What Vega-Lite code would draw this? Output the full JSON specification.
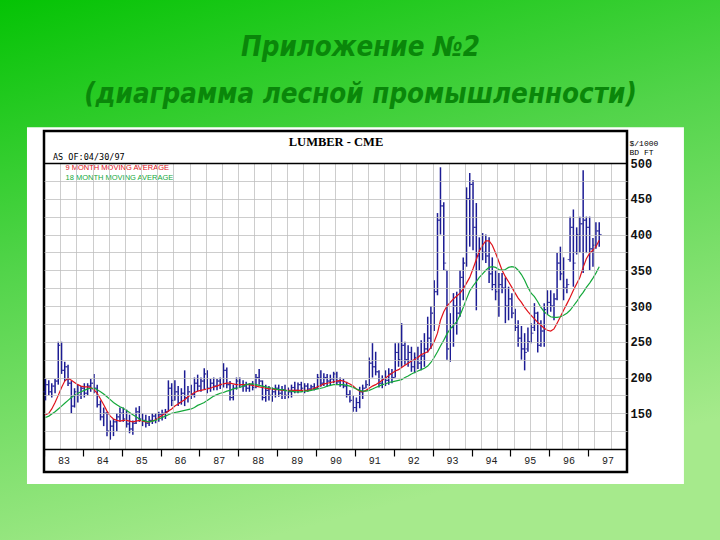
{
  "$schema": "https://vega.github.io/schema/vega-lite/v6.json",
  "width": 583,
  "height": 286,
  "autosize": {"type": "none"},
  "padding": {"left": 44, "top": 163, "right": 93, "bottom": 91},
  "background": "#4fd048",
  "title": {
    "text": ["Приложение №2", "(диаграмма лесной промышленности)"],
    "anchor": "middle",
    "frame": "bounds",
    "font": "DejaVu Sans Condensed, sans-serif",
    "fontSize": 27.5,
    "fontStyle": "italic",
    "fontWeight": "bold",
    "color": "#0a870a",
    "lineHeight": 47,
    "baseline": "bottom",
    "offset": -138
  },
  "config": {
    "view": {"stroke": null}
  },
  "data": {
    "values": [
      {"d":"1983-01-15","o":180,"h":198,"l":168,"c":190,"ma9":148,"ma18":144},
      {"d":"1983-02-15","o":190,"h":196,"l":175,"c":180,"ma9":150,"ma18":146},
      {"d":"1983-03-15","o":180,"h":192,"l":172,"c":188,"ma9":156,"ma18":149},
      {"d":"1983-04-15","o":188,"h":198,"l":178,"c":195,"ma9":165,"ma18":152},
      {"d":"1983-05-15","o":195,"h":250,"l":190,"c":245,"ma9":175,"ma18":156},
      {"d":"1983-06-15","o":245,"h":250,"l":205,"c":210,"ma9":186,"ma18":160},
      {"d":"1983-07-15","o":210,"h":222,"l":195,"c":215,"ma9":195,"ma18":164},
      {"d":"1983-08-15","o":215,"h":218,"l":188,"c":192,"ma9":199,"ma18":168},
      {"d":"1983-09-15","o":192,"h":195,"l":150,"c":160,"ma9":196,"ma18":172},
      {"d":"1983-10-15","o":160,"h":185,"l":158,"c":180,"ma9":193,"ma18":175},
      {"d":"1983-11-15","o":180,"h":190,"l":165,"c":175,"ma9":190,"ma18":178},
      {"d":"1983-12-15","o":175,"h":188,"l":170,"c":185,"ma9":188,"ma18":180},
      {"d":"1984-01-15","o":185,"h":192,"l":172,"c":178,"ma9":187,"ma18":182},
      {"d":"1984-02-15","o":178,"h":192,"l":175,"c":188,"ma9":187,"ma18":184},
      {"d":"1984-03-15","o":188,"h":198,"l":180,"c":192,"ma9":186,"ma18":185},
      {"d":"1984-04-15","o":192,"h":205,"l":178,"c":185,"ma9":183,"ma18":185},
      {"d":"1984-05-15","o":185,"h":190,"l":158,"c":162,"ma9":178,"ma18":183},
      {"d":"1984-06-15","o":162,"h":168,"l":140,"c":145,"ma9":170,"ma18":180},
      {"d":"1984-07-15","o":145,"h":158,"l":132,"c":150,"ma9":162,"ma18":177},
      {"d":"1984-08-15","o":150,"h":152,"l":118,"c":125,"ma9":153,"ma18":173},
      {"d":"1984-09-15","o":125,"h":140,"l":113,"c":132,"ma9":146,"ma18":169},
      {"d":"1984-10-15","o":132,"h":142,"l":118,"c":138,"ma9":142,"ma18":165},
      {"d":"1984-11-15","o":138,"h":150,"l":125,"c":145,"ma9":140,"ma18":162},
      {"d":"1984-12-15","o":145,"h":158,"l":138,"c":150,"ma9":139,"ma18":159},
      {"d":"1985-01-15","o":150,"h":158,"l":138,"c":142,"ma9":140,"ma18":157},
      {"d":"1985-02-15","o":142,"h":155,"l":130,"c":135,"ma9":140,"ma18":154},
      {"d":"1985-03-15","o":135,"h":148,"l":122,"c":128,"ma9":139,"ma18":151},
      {"d":"1985-04-15","o":128,"h":140,"l":120,"c":136,"ma9":138,"ma18":148},
      {"d":"1985-05-15","o":136,"h":158,"l":135,"c":152,"ma9":139,"ma18":145},
      {"d":"1985-06-15","o":152,"h":160,"l":138,"c":142,"ma9":140,"ma18":142},
      {"d":"1985-07-15","o":142,"h":150,"l":132,"c":140,"ma9":139,"ma18":140},
      {"d":"1985-08-15","o":140,"h":148,"l":130,"c":136,"ma9":138,"ma18":139},
      {"d":"1985-09-15","o":136,"h":146,"l":132,"c":140,"ma9":138,"ma18":138},
      {"d":"1985-10-15","o":140,"h":150,"l":135,"c":146,"ma9":139,"ma18":139},
      {"d":"1985-11-15","o":146,"h":150,"l":136,"c":142,"ma9":141,"ma18":140},
      {"d":"1985-12-15","o":142,"h":152,"l":138,"c":148,"ma9":144,"ma18":142},
      {"d":"1986-01-15","o":148,"h":155,"l":140,"c":150,"ma9":147,"ma18":144},
      {"d":"1986-02-15","o":150,"h":156,"l":142,"c":152,"ma9":150,"ma18":146},
      {"d":"1986-03-15","o":152,"h":196,"l":152,"c":185,"ma9":153,"ma18":148},
      {"d":"1986-04-15","o":185,"h":192,"l":160,"c":168,"ma9":156,"ma18":150},
      {"d":"1986-05-15","o":168,"h":196,"l":168,"c":180,"ma9":160,"ma18":151},
      {"d":"1986-06-15","o":180,"h":188,"l":160,"c":165,"ma9":163,"ma18":152},
      {"d":"1986-07-15","o":165,"h":185,"l":162,"c":178,"ma9":166,"ma18":153},
      {"d":"1986-08-15","o":178,"h":210,"l":160,"c":172,"ma9":169,"ma18":154},
      {"d":"1986-09-15","o":172,"h":188,"l":165,"c":180,"ma9":173,"ma18":155},
      {"d":"1986-10-15","o":180,"h":190,"l":170,"c":176,"ma9":176,"ma18":156},
      {"d":"1986-11-15","o":176,"h":200,"l":172,"c":192,"ma9":179,"ma18":158},
      {"d":"1986-12-15","o":192,"h":204,"l":181,"c":188,"ma9":181,"ma18":161},
      {"d":"1987-01-15","o":188,"h":200,"l":180,"c":195,"ma9":182,"ma18":163},
      {"d":"1987-02-15","o":195,"h":213,"l":183,"c":205,"ma9":183,"ma18":165},
      {"d":"1987-03-15","o":205,"h":210,"l":178,"c":185,"ma9":184,"ma18":168},
      {"d":"1987-04-15","o":185,"h":198,"l":180,"c":192,"ma9":185,"ma18":171},
      {"d":"1987-05-15","o":192,"h":200,"l":182,"c":188,"ma9":187,"ma18":174},
      {"d":"1987-06-15","o":188,"h":198,"l":182,"c":195,"ma9":188,"ma18":176},
      {"d":"1987-07-15","o":195,"h":200,"l":184,"c":190,"ma9":190,"ma18":178},
      {"d":"1987-08-15","o":190,"h":220,"l":186,"c":210,"ma9":191,"ma18":179},
      {"d":"1987-09-15","o":210,"h":214,"l":185,"c":190,"ma9":192,"ma18":181},
      {"d":"1987-10-15","o":190,"h":195,"l":168,"c":172,"ma9":192,"ma18":182},
      {"d":"1987-11-15","o":172,"h":190,"l":168,"c":185,"ma9":191,"ma18":184},
      {"d":"1987-12-15","o":185,"h":200,"l":183,"c":195,"ma9":190,"ma18":185},
      {"d":"1988-01-15","o":195,"h":200,"l":186,"c":190,"ma9":190,"ma18":186},
      {"d":"1988-02-15","o":190,"h":196,"l":180,"c":188,"ma9":190,"ma18":188},
      {"d":"1988-03-15","o":188,"h":194,"l":180,"c":185,"ma9":190,"ma18":190},
      {"d":"1988-04-15","o":185,"h":192,"l":180,"c":190,"ma9":190,"ma18":191},
      {"d":"1988-05-15","o":190,"h":195,"l":182,"c":186,"ma9":189,"ma18":191},
      {"d":"1988-06-15","o":186,"h":205,"l":185,"c":200,"ma9":188,"ma18":190},
      {"d":"1988-07-15","o":200,"h":212,"l":190,"c":195,"ma9":187,"ma18":189},
      {"d":"1988-08-15","o":195,"h":196,"l":168,"c":172,"ma9":186,"ma18":188},
      {"d":"1988-09-15","o":172,"h":190,"l":166,"c":182,"ma9":185,"ma18":187},
      {"d":"1988-10-15","o":182,"h":188,"l":168,"c":175,"ma9":184,"ma18":186},
      {"d":"1988-11-15","o":175,"h":186,"l":166,"c":180,"ma9":184,"ma18":185},
      {"d":"1988-12-15","o":180,"h":190,"l":172,"c":185,"ma9":183,"ma18":184},
      {"d":"1989-01-15","o":185,"h":190,"l":173,"c":178,"ma9":183,"ma18":183},
      {"d":"1989-02-15","o":178,"h":188,"l":170,"c":183,"ma9":182,"ma18":183},
      {"d":"1989-03-15","o":183,"h":190,"l":170,"c":175,"ma9":182,"ma18":182},
      {"d":"1989-04-15","o":175,"h":186,"l":171,"c":180,"ma9":182,"ma18":181},
      {"d":"1989-05-15","o":180,"h":190,"l":172,"c":186,"ma9":182,"ma18":181},
      {"d":"1989-06-15","o":186,"h":194,"l":178,"c":182,"ma9":182,"ma18":180},
      {"d":"1989-07-15","o":182,"h":193,"l":178,"c":190,"ma9":182,"ma18":180},
      {"d":"1989-08-15","o":190,"h":194,"l":180,"c":185,"ma9":182,"ma18":180},
      {"d":"1989-09-15","o":185,"h":192,"l":178,"c":188,"ma9":182,"ma18":181},
      {"d":"1989-10-15","o":188,"h":192,"l":180,"c":184,"ma9":182,"ma18":181},
      {"d":"1989-11-15","o":184,"h":190,"l":182,"c":187,"ma9":183,"ma18":182},
      {"d":"1989-12-15","o":187,"h":192,"l":182,"c":185,"ma9":185,"ma18":183},
      {"d":"1990-01-15","o":185,"h":205,"l":184,"c":200,"ma9":187,"ma18":184},
      {"d":"1990-02-15","o":200,"h":210,"l":187,"c":192,"ma9":189,"ma18":185},
      {"d":"1990-03-15","o":192,"h":206,"l":188,"c":200,"ma9":191,"ma18":186},
      {"d":"1990-04-15","o":200,"h":205,"l":187,"c":195,"ma9":192,"ma18":188},
      {"d":"1990-05-15","o":195,"h":204,"l":188,"c":198,"ma9":193,"ma18":189},
      {"d":"1990-06-15","o":198,"h":208,"l":192,"c":205,"ma9":194,"ma18":190},
      {"d":"1990-07-15","o":205,"h":208,"l":190,"c":194,"ma9":195,"ma18":190},
      {"d":"1990-08-15","o":194,"h":200,"l":187,"c":190,"ma9":196,"ma18":190},
      {"d":"1990-09-15","o":190,"h":198,"l":185,"c":188,"ma9":195,"ma18":190},
      {"d":"1990-10-15","o":188,"h":194,"l":172,"c":176,"ma9":193,"ma18":189},
      {"d":"1990-11-15","o":176,"h":182,"l":165,"c":168,"ma9":191,"ma18":188},
      {"d":"1990-12-15","o":168,"h":175,"l":152,"c":158,"ma9":188,"ma18":186},
      {"d":"1991-01-15","o":158,"h":172,"l":152,"c":165,"ma9":184,"ma18":184},
      {"d":"1991-02-15","o":165,"h":187,"l":157,"c":180,"ma9":181,"ma18":182},
      {"d":"1991-03-15","o":180,"h":190,"l":170,"c":185,"ma9":180,"ma18":181},
      {"d":"1991-04-15","o":185,"h":196,"l":185,"c":190,"ma9":182,"ma18":181},
      {"d":"1991-05-15","o":190,"h":228,"l":188,"c":220,"ma9":185,"ma18":182},
      {"d":"1991-06-15","o":220,"h":248,"l":200,"c":215,"ma9":188,"ma18":184},
      {"d":"1991-07-15","o":215,"h":236,"l":203,"c":208,"ma9":190,"ma18":186},
      {"d":"1991-08-15","o":208,"h":210,"l":186,"c":192,"ma9":193,"ma18":188},
      {"d":"1991-09-15","o":192,"h":203,"l":185,"c":198,"ma9":196,"ma18":190},
      {"d":"1991-10-15","o":198,"h":210,"l":188,"c":196,"ma9":199,"ma18":191},
      {"d":"1991-11-15","o":196,"h":213,"l":190,"c":205,"ma9":203,"ma18":193},
      {"d":"1991-12-15","o":205,"h":212,"l":192,"c":200,"ma9":206,"ma18":194},
      {"d":"1992-01-15","o":200,"h":248,"l":200,"c":235,"ma9":209,"ma18":195},
      {"d":"1992-02-15","o":235,"h":248,"l":215,"c":225,"ma9":211,"ma18":196},
      {"d":"1992-03-15","o":225,"h":276,"l":215,"c":245,"ma9":214,"ma18":197},
      {"d":"1992-04-15","o":245,"h":250,"l":218,"c":225,"ma9":217,"ma18":200},
      {"d":"1992-05-15","o":225,"h":245,"l":215,"c":235,"ma9":220,"ma18":202},
      {"d":"1992-06-15","o":235,"h":243,"l":208,"c":215,"ma9":223,"ma18":205},
      {"d":"1992-07-15","o":215,"h":235,"l":206,"c":228,"ma9":225,"ma18":207},
      {"d":"1992-08-15","o":228,"h":243,"l":212,"c":220,"ma9":228,"ma18":209},
      {"d":"1992-09-15","o":220,"h":252,"l":210,"c":230,"ma9":232,"ma18":211},
      {"d":"1992-10-15","o":230,"h":262,"l":215,"c":240,"ma9":234,"ma18":213},
      {"d":"1992-11-15","o":240,"h":285,"l":235,"c":255,"ma9":236,"ma18":216},
      {"d":"1992-12-15","o":255,"h":300,"l":240,"c":290,"ma9":242,"ma18":221},
      {"d":"1993-01-15","o":290,"h":336,"l":265,"c":320,"ma9":250,"ma18":228},
      {"d":"1993-02-15","o":320,"h":430,"l":315,"c":420,"ma9":262,"ma18":236},
      {"d":"1993-03-15","o":420,"h":494,"l":400,"c":440,"ma9":280,"ma18":244},
      {"d":"1993-04-15","o":440,"h":445,"l":350,"c":360,"ma9":292,"ma18":252},
      {"d":"1993-05-15","o":350,"h":350,"l":225,"c":240,"ma9":300,"ma18":261},
      {"d":"1993-06-15","o":240,"h":290,"l":222,"c":270,"ma9":305,"ma18":268},
      {"d":"1993-07-15","o":270,"h":318,"l":243,"c":300,"ma9":310,"ma18":273},
      {"d":"1993-08-15","o":300,"h":320,"l":260,"c":290,"ma9":314,"ma18":278},
      {"d":"1993-09-15","o":290,"h":350,"l":285,"c":340,"ma9":318,"ma18":287},
      {"d":"1993-10-15","o":340,"h":368,"l":308,"c":360,"ma9":324,"ma18":298},
      {"d":"1993-11-15","o":360,"h":466,"l":355,"c":450,"ma9":332,"ma18":310},
      {"d":"1993-12-15","o":450,"h":486,"l":383,"c":470,"ma9":340,"ma18":321},
      {"d":"1994-01-15","o":470,"h":476,"l":378,"c":410,"ma9":352,"ma18":328},
      {"d":"1994-02-15","o":410,"h":444,"l":294,"c":370,"ma9":365,"ma18":334},
      {"d":"1994-03-15","o":370,"h":396,"l":350,"c":380,"ma9":377,"ma18":340},
      {"d":"1994-04-15","o":380,"h":402,"l":364,"c":375,"ma9":385,"ma18":345},
      {"d":"1994-05-15","o":375,"h":400,"l":360,"c":370,"ma9":391,"ma18":350},
      {"d":"1994-06-15","o":370,"h":396,"l":332,"c":345,"ma9":391,"ma18":354},
      {"d":"1994-07-15","o":345,"h":368,"l":322,"c":330,"ma9":385,"ma18":355},
      {"d":"1994-08-15","o":330,"h":350,"l":308,"c":320,"ma9":374,"ma18":354},
      {"d":"1994-09-15","o":320,"h":346,"l":285,"c":330,"ma9":362,"ma18":351},
      {"d":"1994-10-15","o":330,"h":346,"l":318,"c":325,"ma9":350,"ma18":350},
      {"d":"1994-11-15","o":325,"h":340,"l":276,"c":300,"ma9":341,"ma18":351},
      {"d":"1994-12-15","o":300,"h":327,"l":280,"c":310,"ma9":334,"ma18":354},
      {"d":"1995-01-15","o":310,"h":318,"l":283,"c":290,"ma9":326,"ma18":355},
      {"d":"1995-02-15","o":290,"h":296,"l":265,"c":270,"ma9":318,"ma18":354},
      {"d":"1995-03-15","o":270,"h":280,"l":243,"c":255,"ma9":311,"ma18":350},
      {"d":"1995-04-15","o":255,"h":272,"l":225,"c":240,"ma9":305,"ma18":344},
      {"d":"1995-05-15","o":240,"h":262,"l":210,"c":235,"ma9":298,"ma18":336},
      {"d":"1995-06-15","o":240,"h":270,"l":236,"c":250,"ma9":292,"ma18":326},
      {"d":"1995-07-15","o":250,"h":276,"l":248,"c":262,"ma9":287,"ma18":318},
      {"d":"1995-08-15","o":270,"h":304,"l":265,"c":290,"ma9":282,"ma18":313},
      {"d":"1995-09-15","o":290,"h":292,"l":235,"c":245,"ma9":277,"ma18":306},
      {"d":"1995-10-15","o":245,"h":280,"l":243,"c":265,"ma9":273,"ma18":298},
      {"d":"1995-11-15","o":265,"h":304,"l":243,"c":295,"ma9":269,"ma18":292},
      {"d":"1995-12-15","o":295,"h":322,"l":288,"c":305,"ma9":266,"ma18":288},
      {"d":"1996-01-15","o":305,"h":322,"l":292,"c":300,"ma9":265,"ma18":285},
      {"d":"1996-02-15","o":300,"h":318,"l":280,"c":310,"ma9":268,"ma18":284},
      {"d":"1996-03-15","o":310,"h":374,"l":308,"c":360,"ma9":276,"ma18":284},
      {"d":"1996-04-15","o":360,"h":383,"l":336,"c":345,"ma9":285,"ma18":285},
      {"d":"1996-05-15","o":345,"h":368,"l":308,"c":325,"ma9":294,"ma18":287},
      {"d":"1996-06-15","o":325,"h":338,"l":318,"c":330,"ma9":303,"ma18":290},
      {"d":"1996-07-15","o":365,"h":425,"l":362,"c":410,"ma9":312,"ma18":294},
      {"d":"1996-08-15","o":410,"h":435,"l":327,"c":360,"ma9":322,"ma18":300},
      {"d":"1996-09-15","o":375,"h":410,"l":372,"c":400,"ma9":331,"ma18":306},
      {"d":"1996-10-15","o":400,"h":425,"l":375,"c":415,"ma9":340,"ma18":313},
      {"d":"1996-11-15","o":415,"h":490,"l":346,"c":420,"ma9":354,"ma18":319},
      {"d":"1996-12-15","o":420,"h":425,"l":374,"c":410,"ma9":366,"ma18":326},
      {"d":"1997-01-15","o":410,"h":425,"l":350,"c":380,"ma9":374,"ma18":332},
      {"d":"1997-02-15","o":380,"h":395,"l":355,"c":385,"ma9":378,"ma18":339},
      {"d":"1997-03-15","o":385,"h":417,"l":380,"c":405,"ma9":383,"ma18":346},
      {"d":"1997-04-15","o":405,"h":417,"l":383,"c":400,"ma9":392,"ma18":355}
    ]
  },
  "resolve": {"axis": {"x": "independent", "y": "independent"}},
  "layer": [
    {
      "data": {"values": [{}]},
      "mark": {
        "type": "rect",
        "clip": false,
        "strokeWidth": 0,
        "fill": {
          "gradient": "linear",
          "x1": 0, "y1": 0, "x2": 0.35, "y2": 1,
          "stops": [
            {"offset": 0, "color": "#04c304"},
            {"offset": 0.45, "color": "#52d44a"},
            {"offset": 1, "color": "#a6ea8c"}
          ]
        }
      },
      "encoding": {
        "x": {"datum": {"year": 1981, "month": 11, "date": 1, "utc": true}, "type": "temporal", "axis": null,
              "scale": {"type": "utc", "domain": [{"year": 1983, "month": 1, "date": 1, "utc": true}, {"year": 1998, "month": 1, "date": 1, "utc": true}], "nice": false}},
        "x2": {"datum": {"year": 2000, "month": 6, "date": 15, "utc": true}},
        "y": {"datum": -30, "type": "quantitative", "axis": null, "scale": {"domain": [100, 500], "nice": false, "zero": false}},
        "y2": {"datum": 730}
      }
    },
    {
      "data": {"values": [{}]},
      "mark": {"type": "rect", "clip": false, "fill": "#ffffff", "strokeWidth": 0},
      "encoding": {
        "x": {"datum": {"year": 1982, "month": 7, "date": 25, "utc": true}, "type": "temporal", "axis": null,
              "scale": {"type": "utc", "domain": [{"year": 1983, "month": 1, "date": 1, "utc": true}, {"year": 1998, "month": 1, "date": 1, "utc": true}], "nice": false}},
        "x2": {"datum": {"year": 1999, "month": 6, "date": 20, "utc": true}},
        "y": {"datum": 51, "type": "quantitative", "axis": null, "scale": {"domain": [100, 500], "nice": false, "zero": false}},
        "y2": {"datum": 550}
      }
    },
    {
      "data": {"values": [{}]},
      "mark": {"type": "rect", "clip": false, "fillOpacity": 0, "stroke": "#000000", "strokeWidth": 2.5},
      "encoding": {
        "x": {"datum": {"year": 1983, "month": 1, "date": 1, "utc": true}, "type": "temporal", "axis": null,
              "scale": {"type": "utc", "domain": [{"year": 1983, "month": 1, "date": 1, "utc": true}, {"year": 1998, "month": 1, "date": 1, "utc": true}], "nice": false}},
        "x2": {"datum": {"year": 1998, "month": 1, "date": 1, "utc": true}},
        "y": {"datum": 67.8, "type": "quantitative", "axis": null, "scale": {"domain": [100, 500], "nice": false, "zero": false}},
        "y2": {"datum": 544.8}
      }
    },
    {
      "mark": {"type": "rule", "color": "#1c1c94", "strokeWidth": 1.5},
      "encoding": {
        "x": {
          "field": "d", "type": "temporal",
          "scale": {"type": "utc", "domain": [{"year": 1983, "month": 1, "date": 1, "utc": true}, {"year": 1998, "month": 1, "date": 1, "utc": true}], "nice": false},
          "axis": {
            "orient": "bottom",
            "zindex": 2,
            "values": [
              {"year": 1983, "month": 1, "date": 1, "utc": true}, {"year": 1984, "month": 1, "date": 1, "utc": true},
              {"year": 1985, "month": 1, "date": 1, "utc": true}, {"year": 1986, "month": 1, "date": 1, "utc": true},
              {"year": 1987, "month": 1, "date": 1, "utc": true}, {"year": 1988, "month": 1, "date": 1, "utc": true},
              {"year": 1989, "month": 1, "date": 1, "utc": true}, {"year": 1990, "month": 1, "date": 1, "utc": true},
              {"year": 1991, "month": 1, "date": 1, "utc": true}, {"year": 1992, "month": 1, "date": 1, "utc": true},
              {"year": 1993, "month": 1, "date": 1, "utc": true}, {"year": 1994, "month": 1, "date": 1, "utc": true},
              {"year": 1995, "month": 1, "date": 1, "utc": true}, {"year": 1996, "month": 1, "date": 1, "utc": true},
              {"year": 1997, "month": 1, "date": 1, "utc": true}
            ],
            "format": "%y",
            "labelOffset": 19.4,
            "tickSize": 7,
            "tickColor": "#000000",
            "tickWidth": 1.2,
            "labelPadding": -1,
            "labelFont": "Liberation Mono",
            "labelFontSize": 10,
            "labelColor": "#222222",
            "labelFlush": false,
            "labelOverlap": false,
            "labelBound": false,
            "grid": false,
            "domain": true,
            "domainColor": "#000000",
            "domainWidth": 1.6,
            "title": null
          }
        },
        "y": {
          "field": "h", "type": "quantitative",
          "scale": {"domain": [100, 500], "nice": false, "zero": false},
          "axis": {
            "orient": "left",
            "zindex": 1,
            "values": [125, 150, 175, 200, 225, 250, 275, 300, 325, 350, 375, 400, 425, 450, 475],
            "grid": true,
            "gridColor": "#bcbcbc",
            "gridOpacity": 0.75,
            "gridWidth": 1,
            "labels": false,
            "ticks": false,
            "domain": false,
            "title": null
          }
        },
        "y2": {"field": "l"}
      }
    },
    {
      "mark": {"type": "tick", "orient": "horizontal", "color": "#1c1c94", "size": 2, "thickness": 1.1, "xOffset": -1.4},
      "encoding": {
        "x": {"field": "d", "type": "temporal", "axis": null,
              "scale": {"type": "utc", "domain": [{"year": 1983, "month": 1, "date": 1, "utc": true}, {"year": 1998, "month": 1, "date": 1, "utc": true}], "nice": false}},
        "y": {"field": "o", "type": "quantitative", "axis": null, "scale": {"domain": [100, 500], "nice": false, "zero": false}}
      }
    },
    {
      "mark": {"type": "tick", "orient": "horizontal", "color": "#1c1c94", "size": 2, "thickness": 1.1, "xOffset": 1.4},
      "encoding": {
        "x": {"field": "d", "type": "temporal", "axis": null,
              "scale": {"type": "utc", "domain": [{"year": 1983, "month": 1, "date": 1, "utc": true}, {"year": 1998, "month": 1, "date": 1, "utc": true}], "nice": false}},
        "y": {"field": "c", "type": "quantitative", "axis": null, "scale": {"domain": [100, 500], "nice": false, "zero": false}}
      }
    },
    {
      "transform": [{"fold": ["ma9", "ma18"], "as": ["series", "val"]}],
      "mark": {"type": "line", "strokeWidth": 1.2},
      "encoding": {
        "x": {
          "field": "d", "type": "temporal",
          "scale": {"type": "utc", "domain": [{"year": 1983, "month": 1, "date": 1, "utc": true}, {"year": 1998, "month": 1, "date": 1, "utc": true}], "nice": false},
          "axis": {
            "orient": "top",
            "zindex": 1,
            "values": [
              {"year": 1983, "month": 6, "date": 1, "utc": true}, {"year": 1983, "month": 11, "date": 1, "utc": true},
              {"year": 1984, "month": 4, "date": 1, "utc": true}, {"year": 1984, "month": 9, "date": 1, "utc": true},
              {"year": 1985, "month": 2, "date": 1, "utc": true}, {"year": 1985, "month": 7, "date": 1, "utc": true},
              {"year": 1985, "month": 12, "date": 1, "utc": true}, {"year": 1986, "month": 5, "date": 1, "utc": true},
              {"year": 1986, "month": 10, "date": 1, "utc": true}, {"year": 1987, "month": 3, "date": 1, "utc": true},
              {"year": 1987, "month": 8, "date": 1, "utc": true}, {"year": 1988, "month": 1, "date": 1, "utc": true},
              {"year": 1988, "month": 6, "date": 1, "utc": true}, {"year": 1988, "month": 11, "date": 1, "utc": true},
              {"year": 1989, "month": 4, "date": 1, "utc": true}, {"year": 1989, "month": 9, "date": 1, "utc": true},
              {"year": 1990, "month": 2, "date": 1, "utc": true}, {"year": 1990, "month": 7, "date": 1, "utc": true},
              {"year": 1990, "month": 12, "date": 1, "utc": true}, {"year": 1991, "month": 5, "date": 1, "utc": true},
              {"year": 1991, "month": 10, "date": 1, "utc": true}, {"year": 1992, "month": 3, "date": 1, "utc": true},
              {"year": 1992, "month": 8, "date": 1, "utc": true}, {"year": 1993, "month": 1, "date": 1, "utc": true},
              {"year": 1993, "month": 6, "date": 1, "utc": true}, {"year": 1993, "month": 11, "date": 1, "utc": true},
              {"year": 1994, "month": 4, "date": 1, "utc": true}, {"year": 1994, "month": 9, "date": 1, "utc": true},
              {"year": 1995, "month": 2, "date": 1, "utc": true}, {"year": 1995, "month": 7, "date": 1, "utc": true},
              {"year": 1995, "month": 12, "date": 1, "utc": true}, {"year": 1996, "month": 5, "date": 1, "utc": true},
              {"year": 1996, "month": 10, "date": 1, "utc": true}, {"year": 1997, "month": 3, "date": 1, "utc": true},
              {"year": 1997, "month": 8, "date": 1, "utc": true}
            ],
            "grid": true,
            "gridColor": "#bcbcbc",
            "gridOpacity": 0.75,
            "gridWidth": 1,
            "labels": false,
            "ticks": false,
            "domain": true,
            "domainColor": "#000000",
            "domainWidth": 1.6,
            "title": "LUMBER  -  CME",
            "titleFont": "Liberation Serif",
            "titleFontSize": 12.5,
            "titleFontWeight": "bold",
            "titleColor": "#000000",
            "titlePadding": 15
          }
        },
        "y": {
          "field": "val", "type": "quantitative",
          "scale": {"domain": [100, 500], "nice": false, "zero": false},
          "axis": {
            "orient": "right",
            "zindex": 2,
            "values": [150, 200, 250, 300, 350, 400, 450, 500],
            "grid": false,
            "ticks": false,
            "domain": false,
            "labelFont": "Liberation Mono",
            "labelFontSize": 12,
            "labelFontWeight": "bold",
            "labelColor": "#111111",
            "labelPadding": 3,
            "labelBaseline": "middle",
            "labelFlush": false,
            "title": ["$/1000", "BD FT"],
            "titleAngle": 0,
            "titleAlign": "left",
            "titleBaseline": "top",
            "titleX": 2,
            "titleY": -24,
            "titleFont": "Liberation Mono",
            "titleFontSize": 8,
            "titleFontWeight": "normal",
            "titleLineHeight": 9,
            "titleColor": "#000000"
          }
        },
        "color": {
          "field": "series", "type": "nominal",
          "scale": {"domain": ["ma9", "ma18"], "range": ["#e0141c", "#14a83a"]},
          "legend": {
            "orient": "none",
            "legendX": 9,
            "legendY": -10,
            "title": "AS OF:04/30/97",
            "titleFont": "DejaVu Sans Mono",
            "titleFontSize": 8.5,
            "titleFontWeight": "normal",
            "titleColor": "#000000",
            "titlePadding": 3,
            "labelFont": "Liberation Sans",
            "labelFontSize": 7.5,
            "labelOffset": 5,
            "symbolSize": 0,
            "symbolOpacity": 0,
            "symbolStrokeWidth": 0,
            "rowPadding": 0.5,
            "padding": 0,
            "labelExpr": "datum.value == 'ma9' ? '9 MONTH MOVING AVERAGE' : '18 MONTH MOVING AVERAGE'",
            "encode": {"labels": {"update": {"fill": {"scale": "color", "field": "value"}}}}
          }
        }
      }
    }
  ]
}
